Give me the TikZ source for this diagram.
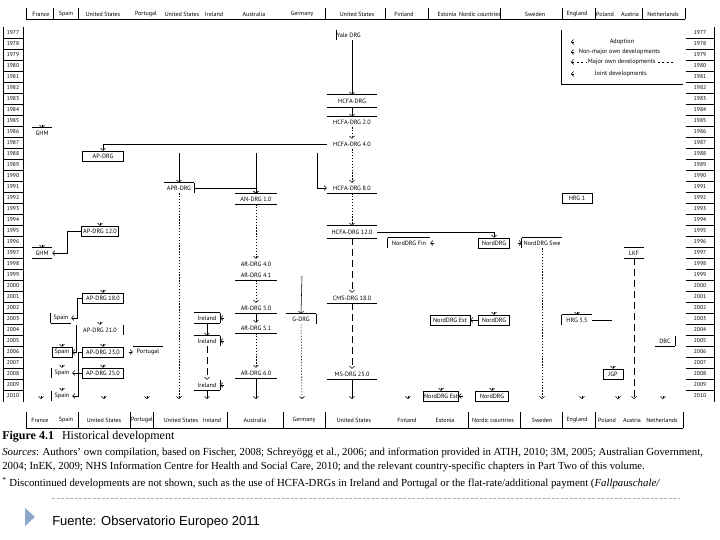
\documentclass[tikz,border=0pt]{standalone}
\usepackage{fontspec}
\setmainfont{Liberation Serif}
\newfontfamily\diagfont{PT Sans}
\newfontfamily\notefont{Liberation Sans}
\usetikzlibrary{arrows.meta,positioning}
\definecolor{bulletblue}{RGB}{140,168,202}

\begin{document}
\begin{tikzpicture}[x=1pt, y=-1pt, line width=0.55pt,
    lbl/.style={font=\diagfont\fontsize{6.2}{7}\selectfont, inner sep=0.5pt, minimum height=10pt},
    yr/.style={font=\diagfont\fontsize{5.6}{6}\selectfont, inner sep=0pt},
    cty/.style={font=\diagfont\fontsize{6}{7}\selectfont, inner sep=0pt},
    lgd/.style={font=\diagfont\fontsize{6.3}{7}\selectfont, inner sep=0.5pt},
    txt/.style={anchor=west, inner sep=0pt, font=\fontsize{10.8}{12}\selectfont},
    boxed/.style={draw},
    lineabove/.style={append after command={(\tikzlastnode.north west) edge (\tikzlastnode.north east)}},
    linebelow/.style={append after command={(\tikzlastnode.south west) edge (\tikzlastnode.south east)}},
    barleft/.style={append after command={(\tikzlastnode.north west) edge (\tikzlastnode.south west)}},
    barright/.style={append after command={(\tikzlastnode.north east) edge (\tikzlastnode.south east)}},
    tipmark/.style={-{Straight Barb[length=2.2pt,width=5pt]}},
    dev/.style={tipmark},
    devdot/.style={tipmark, dash pattern=on 1.3pt off 1.6pt},
    devdash/.style={tipmark, dash pattern=on 7pt off 4pt},
  ]
  \fill[white] (0,0) rectangle (720,540);
  \useasboundingbox (0,0) rectangle (720,540);

  % Country headers, top and bottom
  \foreach \x/\name [count=\i] in {41/France, 66/Spain, 103/United States, 146/Portugal,
      182/United States, 214/Ireland, 254/Australia, 302/Germany, 357/United States,
      404/Finland, 447/Estonia, 480/Nordic countries, 535/Sweden, 577/England,
      605/Poland, 630/Austria, 663/Netherlands}
    \node[cty] (top\i) at (\x,14) {\name};
  \foreach \x in {26,53,78,325,385,428,500,562,595,642,685}
    \draw (\x,8) -- (\x,19);
  \draw (26,19) -- (685,19);

  \foreach \x/\name [count=\i] in {40/France, 66/Spain, 104/United States, 142/Portugal,
      181/United States, 212/Ireland, 255/Australia, 304/Germany, 354/United States,
      407/Finland, 445/Estonia, 493/Nordic countries, 542/Sweden, 577/England,
      607/Poland, 632/Austria, 662/Netherlands}
    \node[cty] (bot\i) at (\x,420) {\name};
  \foreach \x in {26,78,130,153,227,283,325,468,520,562,595,683}
    \draw (\x,412) -- (\x,428);
  \draw (26,428) -- (683,428);

  % Year scales
  \foreach \yr [count=\i from 0] in {1977,...,2010} {
    \node[yr] (yl\yr) at (13,{33+11*\i}) {\yr};
    \node[yr] (yr\yr) at (700,{33+11*\i}) {\yr};
  }
  \foreach \i in {0,...,32}
    \draw[line width=0.4pt] (3,{38.5+11*\i}) -- (23,{38.5+11*\i})
      (686,{38.5+11*\i}) -- (714,{38.5+11*\i});
  \draw (3,27) -- (3,402) (23,27) -- (23,402) (714,27) -- (714,402);

  % Legend
  \draw (561,30) -- (561,84) -- (683,84);
  \draw[devdot, dash pattern=on 2pt off 2.5pt] (673,62) -- (571,62);
  \node[lgd] (lg1) at (622,42) {Adoption};
  \node[lgd, anchor=west] (lg2) at (578,52) {Non-major own developments};
  \node[lgd, anchor=west, fill=white] (lg3) at (587,62) {Major own developments};
  \node[lgd, anchor=west] (lg4) at (594,74) {Joint developments};
  \foreach \y in {42,52,74}
    \draw[tipmark] (574,\y) -- (571,\y);

  % United States: HCFA / CMS line
  \node[lbl, barleft, anchor=west] (yale) at (336,35) {Yale DRG};
  \node[lbl, lineabove, linebelow, minimum width=50pt, minimum height=12pt] (hcfa) at (352,101) {HCFA-DRG};
  \node[lbl, lineabove, minimum width=50pt] (hcfa2) at (352,122) {HCFA-DRG 2.0};
  \node[lbl, minimum width=50pt] (hcfa4) at (352,144) {HCFA-DRG 4.0};
  \node[lbl, linebelow, minimum width=50pt] (hcfa8) at (352,188) {HCFA-DRG 8.0};
  \node[lbl, lineabove, linebelow, minimum width=50pt, minimum height=12pt] (hcfa12) at (352,232) {HCFA-DRG 12.0};
  \node[lbl, linebelow, minimum width=50pt] (cms18) at (352,298) {CMS-DRG 18.0};
  \node[lbl, linebelow, minimum width=50pt] (ms25) at (352,374) {MS-DRG 25.0};

  % AP-DRG, APR-DRG and France / Spain / Portugal
  \node[lbl, boxed, minimum width=41pt] (ap88) at (103,156) {AP-DRG};
  \node[lbl, lineabove, barright, minimum width=30pt] (apr) at (179,188) {APR-DRG};
  \node[lbl, boxed, minimum width=37pt] (ap12) at (100,231) {AP-DRG 12.0};
  \node[lbl, boxed, minimum width=41pt] (ap18) at (103,298) {AP-DRG 18.0};
  \node[lbl, barleft, barright, minimum width=46pt] (ap21) at (100,330) {AP-DRG 21.0};
  \node[lbl, boxed, minimum width=41pt] (ap23) at (103,352) {AP-DRG 23.0};
  \node[lbl, boxed, minimum width=41pt] (ap25) at (103,373) {AP-DRG 25.0};
  \node[lbl, lineabove, minimum width=20pt] (ghm86) at (42,133) {GHM};
  \node[lbl, lineabove, linebelow, minimum width=20pt] (ghm97) at (42,253) {GHM};
  \node[lbl, barleft, linebelow, minimum width=20pt] (es03) at (61,318) {Spain};
  \node[lbl, boxed, minimum width=20pt] (es06) at (62,352) {Spain};
  \node[lbl, barleft, minimum width=20pt] (es08) at (62,373) {Spain};
  \node[lbl, barleft, minimum width=20pt] (es10) at (62,396) {Spain};
  \node[lbl, lineabove, minimum width=30pt] (pt06) at (148,352) {Portugal};

  % Australia, Ireland, Germany
  \node[lbl, lineabove, linebelow, minimum width=41pt] (an1) at (256,199) {AN-DRG 1.0};
  \node[lbl, minimum width=41pt] (ar40) at (256,264) {AR-DRG 4.0};
  \node[lbl, linebelow, minimum width=41pt] (ar41) at (256,275) {AR-DRG 4.1};
  \node[lbl, linebelow, minimum width=41pt] (ar50) at (256,308) {AR-DRG 5.0};
  \node[lbl, linebelow, minimum width=41pt] (ar51) at (256,328) {AR-DRG 5.1};
  \node[lbl, linebelow, minimum width=41pt] (ar60) at (256,373) {AR-DRG 6.0};
  \node[lbl, lineabove, linebelow, barright, minimum width=26pt] (ie03) at (207,318) {Ireland};
  \node[lbl, lineabove, barright, minimum width=26pt] (ie05) at (207,341) {Ireland};
  \node[lbl, linebelow, barright, minimum width=26pt] (ie09) at (207,385) {Ireland};
  \node[lbl, lineabove, barright, minimum width=29pt] (gdrg) at (301,319) {G-DRG};

  % Nordic countries
  \node[lbl, lineabove, barleft, minimum width=42pt] (nfin) at (409,243) {NordDRG Fin};
  \node[lbl, boxed, minimum width=31pt] (nord96) at (494,243) {NordDRG};
  \node[lbl, lineabove, barleft, minimum width=40pt] (nswe) at (542,243) {NordDRG Swe};
  \node[lbl, boxed, minimum width=40pt] (nest03) at (450,320) {NordDRG Est};
  \node[lbl, boxed, minimum width=31pt] (nord03) at (494,320) {NordDRG};
  \node[lbl, boxed, minimum width=33pt] (nest10) at (441,396) {NordDRG Est};
  \node[lbl, boxed, minimum width=33pt] (nord10) at (492,396) {NordDRG};

  % England, Poland, Austria, Netherlands
  \node[lbl, boxed, minimum width=30pt] (hrg1) at (577,198) {HRG 1};
  \node[lbl, lineabove, barleft, minimum width=30pt] (hrg35) at (577,320) {HRG 3.5};
  \node[lbl, boxed, minimum width=20pt] (jgp) at (613,374) {JGP};
  \node[lbl, lineabove, linebelow, minimum width=20pt] (lkf) at (634,253) {LKF};
  \node[lbl, linebelow, barright, minimum width=20pt] (dbc) at (665,341) {DBC};

  % free ends
  \coordinate (aprsrc) at (179,153);
  \coordinate (ansrc) at (256,153);
  \coordinate (hcfasrc) at (317,153);
  \coordinate (gsrc) at (302,276);
  \coordinate (hrgend) at (612,320);
  \foreach \x/\n in {179/us, 207/ie, 256/au, 302/de, 352/cms, 542/se, 634/at}
    \coordinate (end\n) at (\x,399);

  % Developments
  \draw[dev] (yale.south -| hcfa.north) -- (hcfa.north);
  \draw[dev] (hcfa) -- (hcfa2);
  \draw[devdot] (hcfa2) -- (hcfa4);
  \draw[devdot] (hcfa4) -- (hcfa8);
  \draw[devdot] (hcfa8) -- (hcfa12);
  \draw[devdash] (hcfa12) -- (cms18);
  \draw[devdash] (cms18) -- (ms25);
  \draw[dev] (ms25) -- (endcms);
  \draw[dev] (hcfa4.west) -| (ap88.north);
  \draw[dev] (hcfa12.east) -| (nord96.north);
  \draw[dev] (aprsrc) -- (apr.north);
  \draw[dev] (ansrc) -- (an1.north);
  \draw[dev] (hcfasrc) |- (hcfa8.west);
  \draw[dev] (apr.east) -| (an1.north);
  \draw[devdot] (apr.south) -- (endus);
  \draw[devdot] (an1) -- (ar40);
  \draw[devdot] (ar41) -- (ar50);
  \draw[dev] (ar50) -- (ar51);
  \draw[devdot] (ar51) -- (ar60);
  \draw[dev] (ar60) -- (endau);
  \draw[dev] (gsrc) -- (gdrg.north);
  \draw[devdot] (gdrg) -- (endde);
  \draw[dev] (ie03) -- (ie05);
  \draw[devdash] (ie05) -- (ie09);
  \draw[dev] (ie09) -- (endie);
  \draw[dev] (ap12.west) -- ++(-14pt,0) |- (ghm97.east);
  \draw[dev] (ap18.west) -- ++(-5pt,0) |- (es03.east);
  \draw[dev] (ap21.west) |- (es06.east);
  \draw[dev] (ap23.west) -- ++(-4pt,0) |- (es08.east);
  \draw[dev] (ap25.west) -- ++(-4pt,0) |- (es10.east);
  \draw[dev] (nord03.west) -- (nest03.east);
  \draw[devdot] (nswe) -- (endse);
  \draw (hrg35.east) -- (hrgend);
  \draw[devdash] (lkf) -- (endat);

  % Adoptions
  \foreach \n in {ghm86, ghm97, ap12, ap18, ap21, ap23, ap25, es06, es08, es10,
      nord03, nest10, nord10, hrg35, jgp}
    \draw[tipmark] ([yshift=2.5pt]\n.north) -- (\n.north);
  \foreach \n in {nfin, ie03, ie05, ie09, nest10}
    \draw[tipmark] ([xshift=4pt]\n.east) -- (\n.east);
  \foreach \n in {pt06, nswe}
    \draw[tipmark] ([xshift=-4pt]\n.west) -- (\n.west);
  \foreach \x in {41,104,147,408,582,618,663}
    \draw[tipmark] (\x,396) -- (\x,399);

  % Caption and notes
  \node[txt, font=\fontsize{12}{14}\selectfont] (cap) at (2,437) {\textbf{Figure 4.1}\hspace{8pt}Historical development};
  \node[txt] (src1) at (2,453) {\textit{Sources}: Authors' own compilation, based on Fischer, 2008; Schreyögg et al., 2006; and information provided in ATIH, 2010; 3M, 2005; Australian Government,};
  \node[txt] (src2) at (2,467) {2004; InEK, 2009; NHS Information Centre for Health and Social Care, 2010; and the relevant country-specific chapters in Part Two of this volume.};
  \node[txt] (disc) at (2,483) {\textsuperscript{*} Discontinued developments are not shown, such as the use of HCFA-DRGs in Ireland and Portugal or the flat-rate/additional payment (\textit{Fallpauschale/}};
  \draw[gray!60, line width=0.5pt, dash pattern=on 3pt off 1.5pt] (52,498) -- (680,498);
  \fill[bulletblue] (25,508) -- (35,517) -- (25,526) -- cycle;
  \node[txt, font=\notefont\fontsize{13}{15}\selectfont] (fuente) at (52,522) {Fuente: Observatorio Europeo 2011};
\end{tikzpicture}
\end{document}
